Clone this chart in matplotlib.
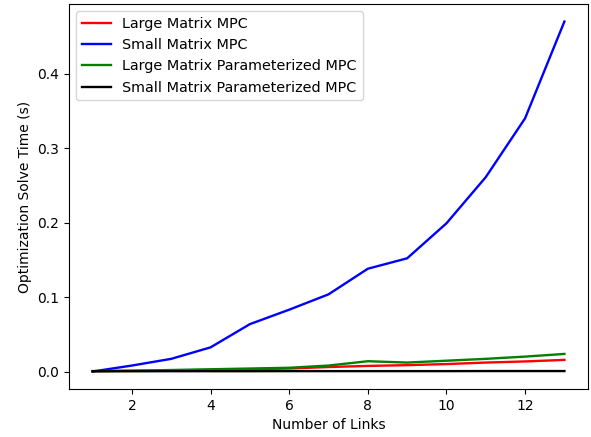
import numpy as np
import matplotlib
matplotlib.use('Agg')
import matplotlib.pyplot as plt

# Data
links = [1, 2, 3, 4, 5, 6, 7, 8, 9, 10, 11, 12, 13]
large_mpc = [0.0005, 0.001, 0.0015, 0.002, 0.003, 0.004, 0.006, 0.0075, 0.0085, 0.010, 0.012, 0.0135, 0.0156]
small_mpc = [0.0, 0.008, 0.017, 0.0324, 0.0636, 0.083, 0.1036, 0.138, 0.152, 0.199, 0.261, 0.340, 0.470]
large_param = [0.0005, 0.001, 0.002, 0.003, 0.004, 0.005, 0.008, 0.0138, 0.012, 0.0145, 0.017, 0.020, 0.0236]
small_param = [0.0003, 0.0003, 0.0004, 0.0004, 0.0004, 0.0005, 0.0005, 0.0005, 0.0005, 0.0005, 0.0006, 0.0006, 0.0006]

fig = plt.figure(figsize=(5.91, 4.37), dpi=100)
ax = fig.add_axes([69/591, 1 - 389/437, (588 - 69)/591, (389 - 4)/437])

ax.plot(links, large_mpc, color='red', lw=1.7, label='Large Matrix MPC')
ax.plot(links, small_mpc, color='blue', lw=1.7, label='Small Matrix MPC')
ax.plot(links, large_param, color='green', lw=1.7, label='Large Matrix Parameterized MPC')
ax.plot(links, small_param, color='black', lw=1.7, label='Small Matrix Parameterized MPC')

ax.set_xlabel('Number of Links')
ax.set_ylabel('Optimization Solve Time (s)')
ax.legend(loc='upper left', fontsize=10.4)

fig.savefig('out.png', dpi=100)
